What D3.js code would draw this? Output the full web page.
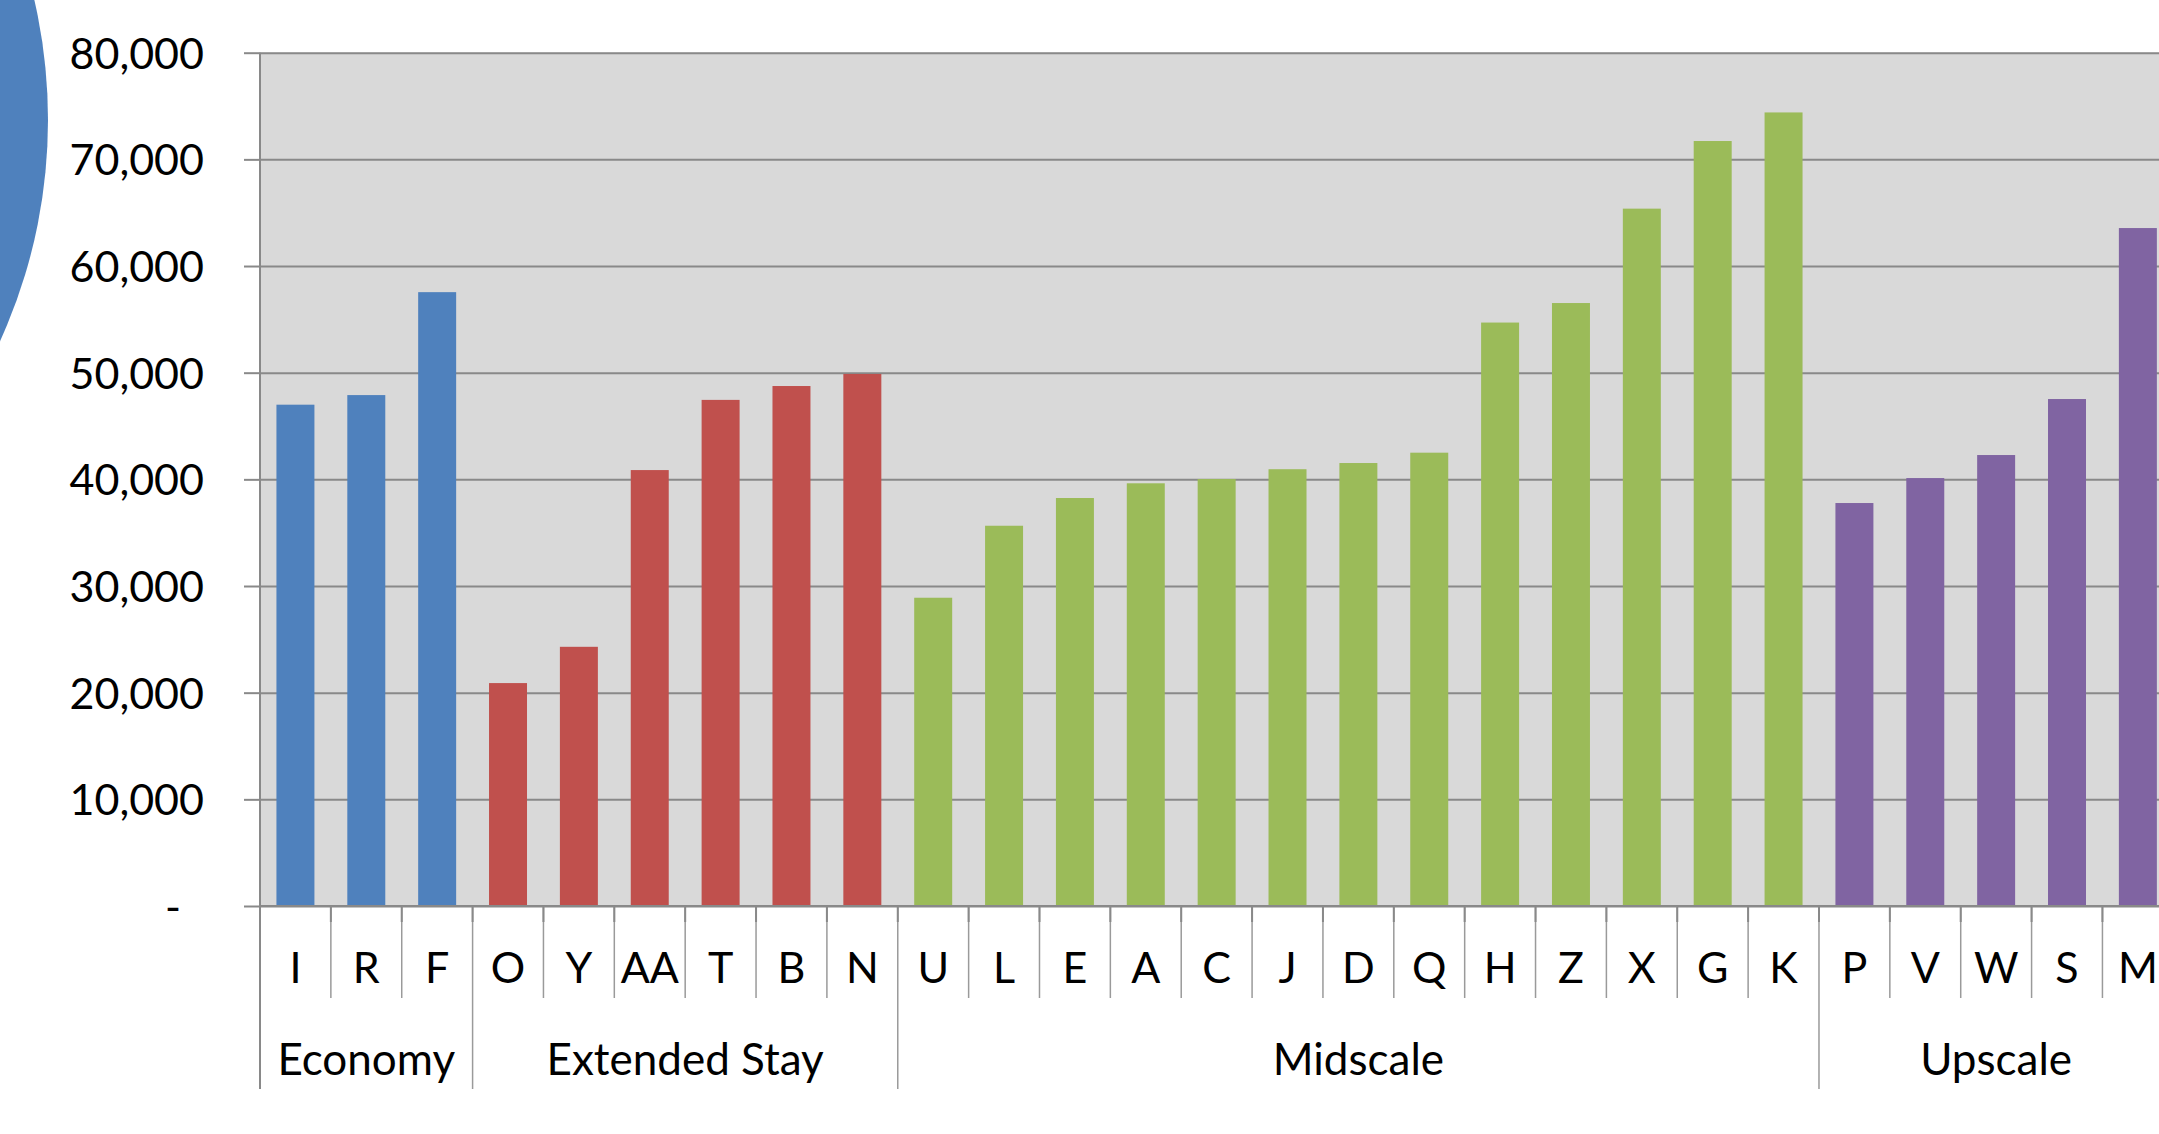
<!DOCTYPE html>
<html>
<head>
<meta charset="utf-8">
<script src="https://cdn.jsdelivr.net/npm/d3@7"></script>
<style>
    html, body { margin: 0; padding: 0; background: #fff; overflow: hidden; }
    svg { display: block; font-family: Lato, "Open Sans", sans-serif; }
    svg text { font-family: Lato, "Open Sans", sans-serif; }
</style>
</head>
<body>
<div id="chart"></div>
<script>
// categories in plot order, grouped by segment
const categories = ['I', 'R', 'F', 'O', 'Y', 'AA', 'T', 'B', 'N', 'U', 'L', 'E', 'A', 'C', 'J', 'D', 'Q', 'H', 'Z', 'X', 'G', 'K', 'P', 'V', 'W', 'S', 'M'];
const values = [47000, 47900, 57550, 20900, 24300, 40870, 47450, 48750, 49880, 28900, 35650, 38250, 39630, 40030, 40950, 41530, 42500, 54700, 56530, 65380, 71720, 74400, 37780, 40120, 42280, 47530, 63560];
const segments = ['Economy', 'Extended Stay', 'Midscale', 'Upscale'];
const segmentSizes = [3, 6, 13, 5];
const segmentColors = ['#4F81BD', '#C0504D', '#9BBB59', '#8064A2'];
const yTicks = [0, 10000, 20000, 30000, 40000, 50000, 60000, 70000, 80000];

const W = 2159, H = 1134;
const plot = {left: 260, right: 2173.3, top: 52.7, bottom: 906};

// segment index for each category
const segOf = [];
segmentSizes.forEach((n, s) => { for (let i = 0; i < n; i++) segOf.push(s); });

const svg = d3.select('#chart').append('svg')
    .attr('width', W)
    .attr('height', H);

// decorative circle on the left edge
svg.append('circle')
    .attr('cx', -486)
    .attr('cy', 120)
    .attr('r', 534)
    .attr('fill', '#4F81BD');

const x = d3.scaleBand()
    .domain(categories)
    .range([plot.left, plot.right])
    .paddingInner(0.464)
    .paddingOuter(0.232);

const y = d3.scaleLinear()
    .domain([0, 80000])
    .range([plot.bottom, plot.top]);

// plot background
svg.append('rect')
    .attr('x', plot.left)
    .attr('y', y(80000))
    .attr('width', plot.right - plot.left)
    .attr('height', y(0) - y(80000))
    .attr('fill', '#D9D9D9');

// gridlines
const grid = svg.append('g')
    .attr('transform', `translate(${plot.left},0)`)
    .call(d3.axisLeft(y).tickValues(yTicks).tickSize(-(plot.right - plot.left)).tickFormat(''));
grid.select('.domain').remove();
grid.selectAll('line').attr('stroke', '#898989').attr('stroke-width', 2);

// bars
svg.append('g').selectAll('rect')
    .data(values)
    .enter()
    .append('rect')
    .attr('x', (d, i) => x(categories[i]))
    .attr('y', d => y(d))
    .attr('width', x.bandwidth())
    .attr('height', d => y(0) - y(d))
    .attr('fill', (d, i) => segmentColors[segOf[i]]);

// y axis with labels
const yAxis = svg.append('g')
    .attr('transform', `translate(${plot.left},0)`)
    .call(d3.axisLeft(y)
        .tickValues(yTicks)
        .tickSize(16)
        .tickPadding(40)
        .tickFormat(d => d === 0 ? '-' : d3.format(',')(d)));
yAxis.attr('font-family', null).attr('font-size', null);
yAxis.select('.domain').remove();
yAxis.selectAll('line').attr('stroke', '#898989').attr('stroke-width', 2);
yAxis.selectAll('text')
    .attr('fill', '#000')
    .style('font-size', '43px')
    .attr('dy', '0.36em');
yAxis.selectAll('.tick').filter(d => d === 0).select('text').attr('x', -79);

// vertical axis line, running down through the category rows
svg.append('line')
    .attr('x1', plot.left).attr('x2', plot.left)
    .attr('y1', y(80000)).attr('y2', 1089)
    .attr('stroke', '#898989').attr('stroke-width', 2);

// x axis
const xAxis = svg.append('g')
    .attr('transform', `translate(0,${plot.bottom})`)
    .call(d3.axisBottom(x).tickSize(0).tickPadding(0));
xAxis.attr('font-family', null).attr('font-size', null);
xAxis.select('.domain').remove();
xAxis.selectAll('text')
    .attr('fill', '#000')
    .attr('y', 77)
    .attr('dy', 0)
    .style('font-size', '43px');

svg.append('line')
    .attr('x1', plot.left).attr('x2', plot.right)
    .attr('y1', plot.bottom).attr('y2', plot.bottom)
    .attr('stroke', '#898989').attr('stroke-width', 2);

// category separators + tick marks
const gap = (x.step() - x.bandwidth()) / 2;
const starts = [];
segmentSizes.reduce((acc, n) => { starts.push(acc); return acc + n; }, 0);
categories.forEach((c, i) => {
    if (i === 0) return;
    const bx = x(c) - gap;
    const isSeg = starts.includes(i);
    svg.append('line')
        .attr('x1', bx).attr('x2', bx)
        .attr('y1', plot.bottom).attr('y2', isSeg ? 1089 : 998)
        .attr('stroke', '#9a9a9a').attr('stroke-width', 1.5);
    svg.append('line')
        .attr('x1', bx).attr('x2', bx)
        .attr('y1', plot.bottom).attr('y2', plot.bottom + 16)
        .attr('stroke', '#898989').attr('stroke-width', 2);
});

// segment labels
segments.forEach((s, k) => {
    const first = categories[starts[k]];
    const last = categories[starts[k] + segmentSizes[k] - 1];
    const x0 = x(first) - gap;
    const x1 = x(last) + x.bandwidth() + gap;
    svg.append('text')
        .attr('x', (x0 + x1) / 2)
        .attr('y', 1075)
        .attr('text-anchor', 'middle')
        .style('font-size', '44px')
        .attr('fill', '#000')
        .text(s);
});
</script>
</body>
</html>
